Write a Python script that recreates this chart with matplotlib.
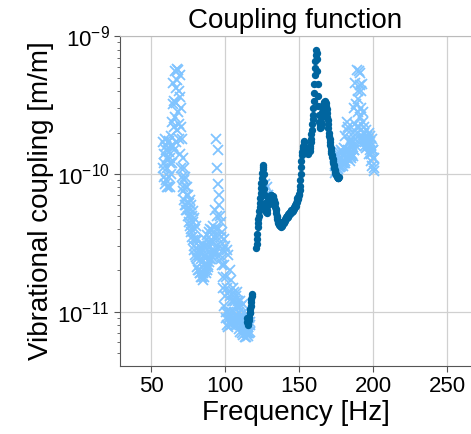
import numpy as np
import matplotlib
matplotlib.use("Agg")
import matplotlib.pyplot as plt
from matplotlib.ticker import NullFormatter

plt.rcParams['font.family'] = ['Liberation Sans', 'DejaVu Sans']
plt.rcParams['mathtext.fontset'] = 'custom'
plt.rcParams['mathtext.rm'] = 'Liberation Sans'
plt.rcParams['mathtext.it'] = 'Liberation Sans:italic'

UNIT = 1e-10

# ---- upper limits (light blue 'x'), values in units of 1e-10 m/m ----
freq_ul1 = np.arange(58.0, 117.01, 0.25)
ul1 = [
    1.7, 1.1, 1.4, 0.95,   # 58
    1.2, 1.8, 0.85, 1.5,   # 59
    1.6, 0.9, 1.3, 0.8,    # 60
    1.1, 1.7, 0.8, 1.45,   # 61
    1.75, 0.95, 1.3, 0.8,  # 62
    1.2, 1.9, 1.0, 1.6,    # 63
    2.4, 1.2, 3.2, 1.6,    # 64
    4.6, 1.5, 3.4, 2.2,    # 65
    5.6, 2.6, 4.2, 1.7,    # 66
    3.3, 5.8, 2.1, 4.8,    # 67
    5.7, 2.8, 4.0, 1.8,    # 68
    2.3, 5.2, 1.4, 3.6,    # 69
    3.0, 1.1, 2.2, 0.95,   # 70
    1.8, 0.8, 1.3, 0.75,   # 71
    1.1, 0.65, 0.9, 0.6,   # 72
    0.95, 0.6, 0.8, 0.55,  # 73
    0.8, 0.55, 0.7, 0.5,   # 74
    0.7, 0.5, 0.62, 0.45,  # 75
    0.65, 0.42, 0.55, 0.4, # 76
    0.6, 0.38, 0.5, 0.35,  # 77
    0.54, 0.33, 0.45, 0.3, # 78
    0.48, 0.28, 0.4, 0.26, # 79
    0.42, 0.25, 0.34, 0.24,# 80
    0.33, 0.21, 0.28, 0.2, # 81
    0.3, 0.2, 0.26, 0.19,  # 82
    0.27, 0.19, 0.24, 0.18,# 83
    0.29, 0.18, 0.23, 0.17,# 84
    0.31, 0.19, 0.25, 0.18,# 85
    0.3, 0.2, 0.26, 0.19,  # 86
    0.33, 0.21, 0.28, 0.2, # 87
    0.36, 0.22, 0.3, 0.21, # 88
    0.38, 0.23, 0.32, 0.24,# 89
    0.4, 0.24, 0.33, 0.26, # 90
    0.39, 0.25, 0.32, 0.27,# 91
    0.42, 0.26, 0.35, 0.28,# 92
    0.55, 0.27, 0.4, 0.3,  # 93
    1.8, 0.35, 1.1, 0.5,   # 94
    0.85, 0.4, 1.5, 0.6,   # 95
    0.7, 0.3, 0.5, 0.26,   # 96
    0.45, 0.24, 0.35, 0.22,# 97
    0.38, 0.18, 0.28, 0.15,# 98
    0.34, 0.11, 0.22, 0.13,# 99
    0.3, 0.09, 0.18, 0.1,  # 100
    0.28, 0.08, 0.15, 0.1, # 101
    0.26, 0.078, 0.14, 0.09,  # 102
    0.2, 0.085, 0.13, 0.1,    # 103
    0.17, 0.08, 0.12, 0.09,   # 104
    0.15, 0.085, 0.12, 0.1,   # 105
    0.14, 0.09, 0.12, 0.08,   # 106
    0.13, 0.085, 0.11, 0.095, # 107
    0.14, 0.08, 0.11, 0.09,   # 108
    0.12, 0.075, 0.1, 0.085,  # 109
    0.12, 0.072, 0.095, 0.08, # 110
    0.11, 0.07, 0.09, 0.08,   # 111
    0.115, 0.068, 0.09, 0.075,# 112
    0.1, 0.066, 0.085, 0.072, # 113
    0.095, 0.066, 0.08, 0.07, # 114
    0.09, 0.067, 0.078, 0.07, # 115
    0.09, 0.07, 0.08, 0.072,  # 116
    0.085,                    # 117
]

freq_ul2 = [126.5, 127.0, 127.5, 128.0, 128.5, 129.0]
ul2 = [0.75, 0.85, 0.7, 0.65, 0.8, 0.7]

freq_ul3 = np.arange(174.0, 200.76, 0.25)
ul3 = [
    1.3, 1.02, 1.15, 1.05,   # 174
    1.35, 1.05, 1.2, 1.1,    # 175
    1.4, 1.08, 1.25, 1.12,   # 176
    1.45, 1.12, 1.3, 1.15,   # 177
    1.5, 1.15, 1.3, 1.2,     # 178
    1.45, 1.15, 1.35, 1.2,   # 179
    1.55, 1.2, 1.4, 1.25,    # 180
    1.9, 1.2, 1.5, 1.3,      # 181
    2.4, 1.3, 2.1, 1.5,      # 182
    2.2, 1.3, 1.7, 1.4,      # 183
    1.7, 1.25, 1.5, 1.35,    # 184
    1.8, 1.3, 1.6, 1.4,      # 185
    2.0, 1.35, 1.7, 1.5,     # 186
    3.0, 1.5, 2.3, 1.8,      # 187
    4.6, 1.6, 3.2, 2.2,      # 188
    5.7, 2.0, 4.0, 2.8,      # 189
    3.5, 5.6, 2.2, 4.4,      # 190
    5.4, 2.6, 4.0, 1.8,      # 191
    3.0, 4.5, 1.9, 2.4,      # 192
    2.8, 1.7, 2.2, 2.0,      # 193
    2.0, 1.6, 1.8, 1.7,      # 194
    2.1, 1.55, 1.9, 1.7,     # 195
    1.9, 1.6, 1.8, 1.65,     # 196
    2.0, 1.4, 1.7, 1.5,      # 197
    1.9, 1.25, 1.6, 1.4,     # 198
    1.8, 1.15, 1.5, 1.3,     # 199
    1.5, 1.05, 1.3, 1.1,     # 200
]

# ---- measured coupling (dark blue dots), units of 1e-10 m/m ----
freq_m1 = np.arange(114.75, 118.26, 0.25)
meas1 = [0.09, 0.085, 0.082, 0.08, 0.084, 0.088, 0.092, 0.098,
         0.1, 0.105, 0.11, 0.118, 0.125, 0.13, 0.135]

freq_m2 = np.arange(121.0, 176.76, 0.25)
meas2 = [
    0.29, 0.31, 0.34, 0.37,   # 121
    0.41, 0.44, 0.47, 0.5,    # 122
    0.54, 0.58, 0.62, 0.67,   # 123
    0.73, 0.79, 0.86, 0.93,   # 124
    1.02, 1.12, 1.17, 1.08,   # 125
    1.0, 0.88, 0.78, 0.7,     # 126
    0.62, 0.58, 0.55, 0.53,   # 127
    0.52, 0.55, 0.6, 0.63,    # 128
    0.6, 0.65, 0.62, 0.67,    # 129
    0.65, 0.68, 0.66, 0.7,    # 130
    0.68, 0.7, 0.69, 0.67,    # 131
    0.69, 0.66, 0.68, 0.65,   # 132
    0.63, 0.6, 0.62, 0.58,    # 133
    0.56, 0.55, 0.52, 0.5,    # 134
    0.49, 0.47, 0.46, 0.45,   # 135
    0.44, 0.43, 0.45, 0.43,   # 136
    0.42, 0.43, 0.41, 0.42,   # 137
    0.42, 0.43, 0.42, 0.44,   # 138
    0.44, 0.45, 0.44, 0.46,   # 139
    0.46, 0.47, 0.46, 0.48,   # 140
    0.48, 0.49, 0.48, 0.5,    # 141
    0.5, 0.49, 0.51, 0.5,     # 142
    0.51, 0.52, 0.51, 0.53,   # 143
    0.52, 0.53, 0.55, 0.54,   # 144
    0.53, 0.55, 0.54, 0.56,   # 145
    0.56, 0.57, 0.56, 0.58,   # 146
    0.58, 0.6, 0.59, 0.61,    # 147
    0.62, 0.63, 0.65, 0.67,   # 148
    0.66, 0.67, 0.68, 0.7,    # 149
    0.72, 0.76, 0.82, 0.9,    # 150
    1.0, 1.12, 1.25, 1.38,    # 151
    1.45, 1.5, 1.55, 1.6,     # 152
    1.75, 1.7, 1.6, 1.55,     # 153
    1.5, 1.45, 1.55, 1.48,    # 154
    1.42, 1.5, 1.44, 1.52,    # 155
    1.45, 1.4, 1.5, 1.46,     # 156
    1.48, 1.55, 1.6, 1.7,     # 157
    1.8, 1.95, 2.1, 2.3,      # 158
    2.5, 2.7, 3.0, 3.4,       # 159
    3.9, 4.5, 5.2, 5.9,       # 160
    6.6, 7.3, 8.0, 7.6,       # 161
    6.8, 5.6, 4.5, 3.7,       # 162
    3.1, 2.7, 2.4, 2.25,      # 163
    2.2, 2.15, 2.3, 2.2,      # 164
    2.4, 2.6, 2.8, 2.95,      # 165
    3.05, 3.15, 3.2, 3.3,     # 166
    3.35, 3.3, 3.38, 3.32,    # 167
    3.25, 3.1, 2.95, 2.75,    # 168
    2.6, 2.45, 2.3, 2.15,     # 169
    2.0, 1.9, 1.8, 1.7,       # 170
    1.62, 1.55, 1.48, 1.42,   # 171
    1.38, 1.33, 1.28, 1.24,   # 172
    1.2, 1.16, 1.13, 1.1,     # 173
    1.07, 1.05, 1.02, 1.0,    # 174
    0.99, 0.97, 0.96, 0.95,   # 175
    0.94, 0.93, 0.94, 0.95,   # 176
]

light = '#80c4ff'
dark = '#00659f'

fig = plt.figure(figsize=(4.71, 4.34), dpi=100)
ax = fig.add_axes([0.2548, 0.1567, 0.7452, 0.76])

for f, v in [(freq_ul1, ul1), (freq_ul2, ul2), (freq_ul3, ul3)]:
    ax.plot(f, np.array(v) * UNIT, linestyle='none', marker='x',
            markersize=6.5, markeredgewidth=1.3, color=light, zorder=2)
for f, v in [(freq_m1, meas1), (freq_m2, meas2)]:
    ax.plot(f, np.array(v) * UNIT, linestyle='none', marker='o',
            markersize=5.3, markeredgewidth=0, color=dark, zorder=3)

ax.set_yscale('log')
ax.set_xlim(29, 266)
ax.set_ylim(4.05e-12, 1e-9)
ax.set_xticks([50, 100, 150, 200, 250])
ax.yaxis.set_minor_formatter(NullFormatter())
ax.grid(True, which='major', color='#d0d0d0', linewidth=0.9)
ax.set_axisbelow(True)

for side in ['left', 'bottom', 'top']:
    ax.spines[side].set_color('#555555')
    ax.spines[side].set_linewidth(0.8)
ax.spines['top'].set_color('#bbbbbb')
ax.spines['right'].set_visible(False)

ax.tick_params(axis='both', which='major', labelsize=16, length=4,
               width=0.8, color='#555555', direction='out')
ax.tick_params(axis='y', which='minor', length=2.5, width=0.6,
               color='#555555')

ax.set_title('Coupling function', fontsize=20, pad=6)
ax.set_xlabel('Frequency [Hz]', fontsize=20, labelpad=2)
ax.set_ylabel('Vibrational coupling [m/m]', fontsize=20, labelpad=2)

fig.savefig('out.png', dpi=100)
